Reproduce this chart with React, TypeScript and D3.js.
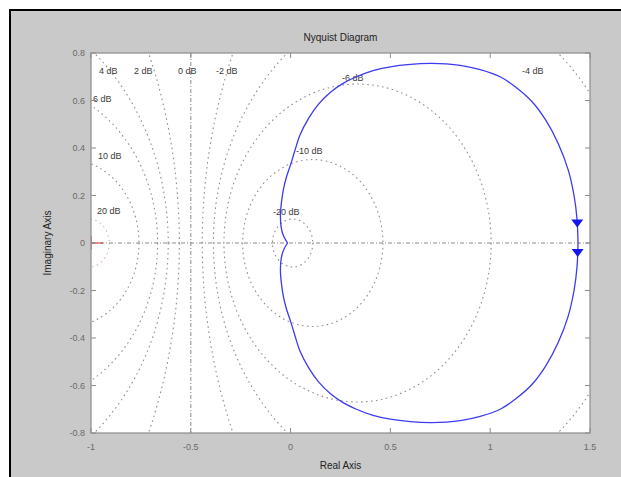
import React, { useEffect, useRef } from "react";
import * as d3 from "d3";

// positive-frequency branch of the Nyquist curve
const curveRe = [1.44, 1.435, 1.42, 1.39, 1.34, 1.28, 1.21, 1.13, 1.05, 0.95, 0.85, 0.78, 0.7, 0.6, 0.5, 0.413, 0.33, 0.263, 0.2, 0.14, 0.09, 0.047, 0.02, 0.0, -0.02, -0.035, -0.046, -0.051, -0.047, -0.034, -0.015];
const curveIm = [0, -0.1, -0.2, -0.31, -0.42, -0.515, -0.595, -0.655, -0.7, -0.73, -0.748, -0.754, -0.756, -0.752, -0.742, -0.726, -0.7, -0.672, -0.635, -0.585, -0.525, -0.455, -0.385, -0.33, -0.28, -0.23, -0.17, -0.115, -0.065, -0.027, 0];

// direction arrows
const arrowRe = [1.436, 1.438];
const arrowIm = [0.082, -0.042];

// M-circle grid (closed-loop gain in dB)
const gridDb = [-20, -10, -6, -4, -2, 0, 2, 4, 6, 10, 20];
const labelText = ["-20 dB", "-10 dB", "-6 dB", "-4 dB", "-2 dB", "0 dB", "2 dB", "4 dB", "6 dB", "10 dB", "20 dB"];
const labelRe = [-0.088, 0.027, 0.257, 1.159, -0.374, -0.564, -0.785, -0.96, -0.99, -0.965, -0.97];
const labelIm = [0.13, 0.387, 0.695, 0.724, 0.724, 0.724, 0.724, 0.724, 0.606, 0.366, 0.135];

const xTicks = [-1, -0.5, 0, 0.5, 1, 1.5];
const yTicks = [-0.8, -0.6, -0.4, -0.2, 0, 0.2, 0.4, 0.6, 0.8];

function App() {
  const svgRef = useRef<SVGSVGElement>(null);

  useEffect(() => {
    const W = 621, H = 477;
    const plot = { left: 91, top: 53, right: 590, bottom: 433 };
    const font = "'Liberation Sans', Arial, sans-serif";

    const svg = d3.select(svgRef.current);
    svg.selectAll("*").remove();

    // figure background with the black frame on top/left
    svg.append("rect").attr("width", W).attr("height", H).attr("fill", "#ffffff");
    svg.append("rect").attr("x", 10).attr("y", 10).attr("width", W).attr("height", H)
      .attr("fill", "#c9c9c9").attr("stroke", "#000").attr("stroke-width", 2);

    const x = d3.scaleLinear().domain([-1, 1.5]).range([plot.left, plot.right]);
    const y = d3.scaleLinear().domain([-0.8, 0.8]).range([plot.bottom, plot.top]);

    svg.append("defs").append("clipPath").attr("id", "plotclip")
      .append("rect").attr("x", plot.left).attr("y", plot.top)
      .attr("width", plot.right - plot.left).attr("height", plot.bottom - plot.top);

    svg.append("rect").attr("x", plot.left).attr("y", plot.top)
      .attr("width", plot.right - plot.left).attr("height", plot.bottom - plot.top)
      .attr("fill", "#fff");

    const g = svg.append("g").attr("clip-path", "url(#plotclip)");

    // M circles
    gridDb.forEach((db) => {
      const M = Math.pow(10, db / 20);
      if (db === 0) {
        g.append("line").attr("x1", x(-0.5)).attr("x2", x(-0.5))
          .attr("y1", plot.top).attr("y2", plot.bottom)
          .attr("stroke", "#8a8a8a").attr("stroke-dasharray", "4,2,1,2");
        return;
      }
      const c = -(M * M) / (M * M - 1);
      const r = Math.abs(M / (M * M - 1));
      g.append("ellipse")
        .attr("cx", x(c)).attr("cy", y(0))
        .attr("rx", x(c + r) - x(c)).attr("ry", y(0) - y(r))
        .attr("fill", "none")
        .attr("stroke", db === 20 ? "#e2b4b4" : "#8f8f8f")
        .attr("stroke-width", 1.1)
        .attr("stroke-dasharray", "1.6,3.4");
    });

    // real axis
    g.append("line").attr("x1", plot.left).attr("x2", plot.right)
      .attr("y1", y(0)).attr("y2", y(0))
      .attr("stroke", "#8a8a8a").attr("stroke-dasharray", "4,2,1,2");

    // grid labels
    labelText.forEach((t, i) => {
      g.append("text").attr("x", x(labelRe[i])).attr("y", y(labelIm[i]))
        .attr("dy", "0.35em").attr("font-family", font).attr("font-size", 9)
        .attr("fill", "#3a3a3a").text(t);
    });

    // critical point
    g.append("path")
      .attr("d", `M${x(-1) - 12},${y(0)}H${x(-1) + 12}M${x(-1)},${y(0) - 7}V${y(0) + 7}`)
      .attr("stroke", "#e03030").attr("stroke-width", 1.2).attr("fill", "none");

    // Nyquist curve: positive frequencies and the mirrored negative ones
    const pos = curveRe.map((re, i) => [re, curveIm[i]] as [number, number]);
    const neg = pos.map(([re, im]) => [re, -im] as [number, number]);
    const line = d3.line<[number, number]>().x((d) => x(d[0])).y((d) => y(d[1])).curve(d3.curveCatmullRom);
    [pos, neg].forEach((pts) => {
      g.append("path").attr("d", line(pts)).attr("fill", "none")
        .attr("stroke", "#3b3bf0").attr("stroke-width", 1.3);
    });

    arrowRe.forEach((re, i) => {
      const cx = x(re), cy = y(arrowIm[i]);
      g.append("path")
        .attr("d", `M${cx - 6},${cy - 4}L${cx + 6},${cy - 4}L${cx},${cy + 4}Z`)
        .attr("fill", "#1515f0");
    });

    // axes box and ticks
    svg.append("rect").attr("x", plot.left).attr("y", plot.top)
      .attr("width", plot.right - plot.left).attr("height", plot.bottom - plot.top)
      .attr("fill", "none").attr("stroke", "#8c8c8c").attr("stroke-width", 1.2);

    const tk = svg.append("g").attr("stroke", "#8c8c8c");
    xTicks.forEach((v) => {
      tk.append("line").attr("x1", x(v)).attr("x2", x(v)).attr("y1", plot.bottom).attr("y2", plot.bottom - 5);
      tk.append("line").attr("x1", x(v)).attr("x2", x(v)).attr("y1", plot.top).attr("y2", plot.top + 5);
    });
    yTicks.forEach((v) => {
      tk.append("line").attr("x1", plot.left).attr("x2", plot.left + 5).attr("y1", y(v)).attr("y2", y(v));
      tk.append("line").attr("x1", plot.right).attr("x2", plot.right - 5).attr("y1", y(v)).attr("y2", y(v));
    });

    xTicks.forEach((v) => {
      svg.append("text").attr("x", x(v)).attr("y", plot.bottom + 17)
        .attr("text-anchor", "middle").attr("font-family", font).attr("font-size", 9)
        .attr("fill", "#6a6a6a").text(String(v));
    });
    yTicks.forEach((v) => {
      svg.append("text").attr("x", plot.left - 6).attr("y", y(v)).attr("dy", "0.35em")
        .attr("text-anchor", "end").attr("font-family", font).attr("font-size", 9)
        .attr("fill", "#6a6a6a").text(String(v));
    });

    svg.append("text").attr("x", (plot.left + plot.right) / 2).attr("y", 41)
      .attr("text-anchor", "middle").attr("font-family", font).attr("font-size", 10)
      .attr("fill", "#222").text("Nyquist Diagram");
    svg.append("text").attr("x", (plot.left + plot.right) / 2).attr("y", 469)
      .attr("text-anchor", "middle").attr("font-family", font).attr("font-size", 10)
      .attr("fill", "#222").text("Real Axis");
    svg.append("text").attr("transform", `translate(51,${y(0)}) rotate(-90)`)
      .attr("text-anchor", "middle").attr("font-family", font).attr("font-size", 10)
      .attr("fill", "#222").text("Imaginary Axis");
  }, []);

  return (
    <svg ref={svgRef} width={621} height={477}
      style={{ position: "absolute", left: 0, top: 0, display: "block" }} />
  );
}

export default App;
